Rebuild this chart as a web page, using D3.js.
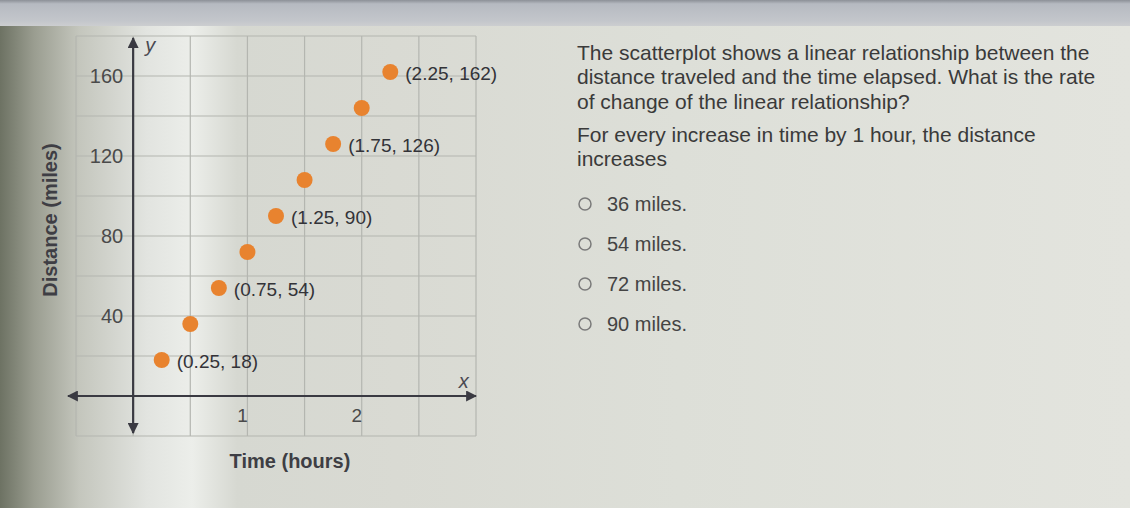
<!DOCTYPE html>
<html>
<head>
<meta charset="utf-8">
<script src="https://cdn.jsdelivr.net/npm/d3@7"></script>
<style>
  html, body { margin: 0; padding: 0; background: #dcddd6; }
  svg { display: block; }
  text { font-family: "Liberation Sans", Arial, sans-serif; }
</style>
</head>
<body>
<svg id="chart" width="1130" height="508"></svg>
<script>
// chart data
const times = [0.25, 0.5, 0.75, 1, 1.25, 1.5, 1.75, 2, 2.25];
const distances = [18, 36, 54, 72, 90, 108, 126, 144, 162];
const labelled = [true, false, true, false, true, false, true, false, true];
const yTickValues = [40, 80, 120, 160];
const xTickValues = [1, 2];
const question = [
  'The scatterplot shows a linear relationship between the',
  'distance traveled and the time elapsed. What is the rate',
  'of change of the linear relationship?'
];
const prompt = ['For every increase in time by 1 hour, the distance', 'increases'];
const choices = ['36 miles.', '54 miles.', '72 miles.', '90 miles.'];

const svg = d3.select('#chart');
const W = 1130, H = 508;

// photo-ish background
const defs = svg.append('defs');
const bg = defs.append('linearGradient').attr('id', 'bgGrad');
[[0, '#6d7263'], [0.03, '#9a9d90'], [0.07, '#c4c6bd'], [0.13, '#e2e4e0'], [0.17, '#eceeea'],
 [0.21, '#d6d8d1'], [0.35, '#d9dad3'], [0.6, '#dddfd8'], [1, '#e3e4de']]
  .forEach(([o, c]) => bg.append('stop').attr('offset', o).attr('stop-color', c));
const topGrad = defs.append('linearGradient').attr('id', 'topGrad')
  .attr('x1', 0).attr('y1', 0).attr('x2', 0).attr('y2', 1);
[[0, '#8c9097'], [0.15, '#b6bac1'], [0.8, '#c3c6cb'], [1, '#ccced0']]
  .forEach(([o, c]) => topGrad.append('stop').attr('offset', o).attr('stop-color', c));

svg.append('rect').attr('width', W).attr('height', H).attr('fill', 'url(#bgGrad)');
svg.append('rect').attr('width', W).attr('height', 26).attr('fill', 'url(#topGrad)');

// scales
const x = d3.scaleLinear().domain([-0.5, 3]).range([76, 476]);
const y = d3.scaleLinear().domain([-20, 180]).range([436, 36]);

const plot = svg.append('g');

// grid
plot.append('g')
  .selectAll('line')
  .data(d3.range(-0.5, 3.01, 0.5))
  .join('line')
  .attr('x1', d => x(d)).attr('x2', d => x(d))
  .attr('y1', y(180)).attr('y2', y(-20))
  .attr('stroke', '#b4b6b0').attr('stroke-width', 1.2);

plot.append('g')
  .selectAll('line')
  .data(d3.range(-20, 181, 20))
  .join('line')
  .attr('x1', x(-0.5)).attr('x2', x(3))
  .attr('y1', d => y(d)).attr('y2', d => y(d))
  .attr('stroke', '#b4b6b0').attr('stroke-width', 1.2);

// axes with arrows
defs.append('marker').attr('id', 'arrow')
  .attr('viewBox', '0 0 10 10').attr('refX', 9).attr('refY', 5)
  .attr('markerWidth', 5).attr('markerHeight', 5)
  .attr('orient', 'auto-start-reverse')
  .append('path').attr('d', 'M0,0 L10,5 L0,10 Z').attr('fill', '#3a3a42');

plot.append('line')
  .attr('x1', x(-0.57)).attr('x2', x(3))
  .attr('y1', y(0)).attr('y2', y(0))
  .attr('stroke', '#3a3a42').attr('stroke-width', 2.2)
  .attr('marker-start', 'url(#arrow)').attr('marker-end', 'url(#arrow)');

plot.append('line')
  .attr('x1', x(0)).attr('x2', x(0))
  .attr('y1', y(-18.5)).attr('y2', y(179))
  .attr('stroke', '#3a3a42').attr('stroke-width', 2.2)
  .attr('marker-start', 'url(#arrow)').attr('marker-end', 'url(#arrow)');

// tick labels
plot.append('g')
  .selectAll('text')
  .data(yTickValues)
  .join('text')
  .attr('x', x(0) - 10).attr('y', d => y(d))
  .attr('dy', '0.36em')
  .attr('text-anchor', 'end')
  .attr('font-size', 20).attr('fill', '#4a4a4a')
  .text(d => d);

plot.append('g')
  .selectAll('text')
  .data(xTickValues)
  .join('text')
  .attr('x', d => x(d) - 5).attr('y', y(0) + 19)
  .attr('dy', '0.36em')
  .attr('text-anchor', 'middle')
  .attr('font-size', 19).attr('fill', '#4a4a4a')
  .text(d => d);

// axis letters
plot.append('text').attr('x', x(0) + 12).attr('y', y(172))
  .attr('font-family', '"DejaVu Serif", serif').attr('font-style', 'italic')
  .attr('font-size', 20).attr('fill', '#4a4a52').text('y');
plot.append('text').attr('x', x(2.85)).attr('y', y(4))
  .attr('font-family', '"DejaVu Serif", serif').attr('font-style', 'italic')
  .attr('font-size', 20).attr('fill', '#4a4a52').text('x');

// axis titles
svg.append('text')
  .attr('transform', `translate(50, 220) rotate(-90)`)
  .attr('dy', '0.36em')
  .attr('text-anchor', 'middle')
  .attr('font-size', 20).attr('font-weight', 'bold').attr('fill', '#3e3e44')
  .text('Distance (miles)');
svg.append('text')
  .attr('x', 290).attr('y', 461)
  .attr('dy', '0.36em')
  .attr('text-anchor', 'middle')
  .attr('font-size', 20).attr('font-weight', 'bold').attr('fill', '#3e3e44')
  .text('Time (hours)');

// points
const pts = times.map((t, i) => ({ t, d: distances[i], lab: labelled[i] }));
plot.append('g')
  .selectAll('circle')
  .data(pts)
  .join('circle')
  .attr('cx', d => x(d.t)).attr('cy', d => y(d.d))
  .attr('r', 8)
  .attr('fill', '#e8832f');

plot.append('g')
  .selectAll('text')
  .data(pts.filter(p => p.lab))
  .join('text')
  .attr('x', d => x(d.t) + 15).attr('y', d => y(d.d) + 1)
  .attr('dy', '0.36em')
  .attr('font-size', 19).attr('fill', '#333338')
  .text(d => `(${d.t}, ${d.d})`);

// question text on the right
const qx = 577;
svg.append('g')
  .selectAll('text')
  .data(question)
  .join('text')
  .attr('x', qx).attr('y', (d, i) => 52 + i * 24.5)
  .attr('dy', '0.36em')
  .attr('font-size', 21).attr('fill', '#3a3a3a')
  .text(d => d);

svg.append('g')
  .selectAll('text')
  .data(prompt)
  .join('text')
  .attr('x', qx).attr('y', (d, i) => 134 + i * 24)
  .attr('dy', '0.36em')
  .attr('font-size', 21).attr('fill', '#3a3a3a')
  .text(d => d);

const opt = svg.append('g')
  .selectAll('g')
  .data(choices)
  .join('g')
  .attr('transform', (d, i) => `translate(585, ${204 + i * 40})`);
opt.append('circle').attr('r', 6).attr('fill', 'none')
  .attr('stroke', '#7a7a7a').attr('stroke-width', 1.5);
opt.append('text').attr('x', 22).attr('dy', '0.36em')
  .attr('font-size', 20).attr('fill', '#444')
  .text(d => d);
</script>
</body>
</html>
